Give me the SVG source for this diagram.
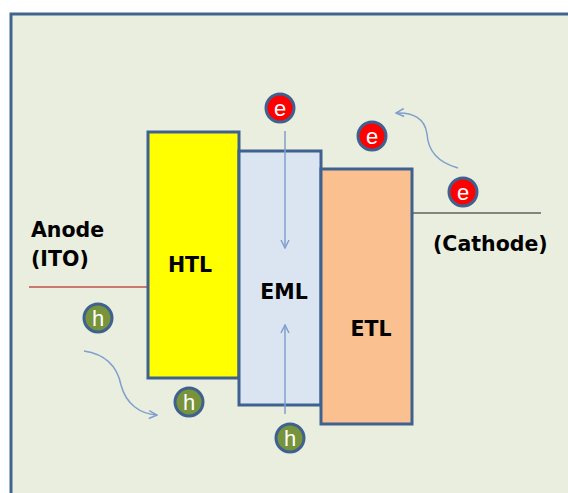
<svg xmlns="http://www.w3.org/2000/svg" width="568" height="493" viewBox="0 0 568 493">
<style>
.layer{stroke:#3f6190;stroke-width:3}
.lbl{font-family:"DejaVu Sans","Liberation Sans",sans-serif;font-weight:bold;font-size:20.5px;fill:#000}
.flow{fill:none;stroke:#7f9fcf;stroke-width:1.5}
.ep{fill:#ff0000;stroke:#3f6190;stroke-width:3}
.hp{fill:#77933c;stroke:#3f6190;stroke-width:3}
.pt{font-family:"Liberation Sans",Arial,sans-serif;font-size:22px;fill:#fff;text-anchor:middle}
</style>
<defs>
<marker id="arr" viewBox="0 0 10 10" refX="9" refY="5" markerWidth="10" markerHeight="10" markerUnits="userSpaceOnUse" orient="auto">
<path d="M1,1 L9,5 L1,9" fill="none" stroke="#7f9fcf" stroke-width="1.5"/>
</marker>
</defs>
<rect x="0" y="0" width="568" height="493" fill="#ffffff"/>
<rect id="frame" x="11" y="14" width="570" height="490" fill="#eaeedf" stroke="#41648f" stroke-width="3"/>
<g id="anode">
<line x1="29" y1="287" x2="148" y2="287" stroke="#c0504d" stroke-width="1.5"/>
<text class="lbl" x="31" y="237">Anode</text>
<text class="lbl" x="31" y="266">(ITO)</text>
</g>
<g id="cathode">
<line x1="413" y1="213" x2="541" y2="213" stroke="#5f6360" stroke-width="1.5"/>
<text class="lbl" x="433" y="251">(Cathode)</text>
</g>
<g id="HTL">
<rect class="layer" x="148" y="132" width="91" height="246" fill="#ffff00"/>
<text class="lbl" x="190" y="272" text-anchor="middle">HTL</text>
</g>
<g id="EML">
<rect class="layer" x="239" y="151" width="82" height="254" fill="#dbe5f1"/>
<text class="lbl" x="284" y="299" text-anchor="middle">EML</text>
</g>
<g id="ETL">
<rect class="layer" x="321" y="169" width="91" height="255" fill="#fac090"/>
<text class="lbl" x="371" y="336" text-anchor="middle">ETL</text>
</g>
<g id="connectors">
<line class="flow" x1="285" y1="131" x2="285" y2="248" marker-end="url(#arr)"/>
<line class="flow" x1="285" y1="414" x2="285" y2="325" marker-end="url(#arr)"/>
<path class="flow" d="M458,168 C436,162 428,150 427,134 C425,118 412,112 396,113" marker-end="url(#arr)"/>
<path class="flow" d="M84,351 C104,354 117,365 121,385 C126,404 140,414 157,415" marker-end="url(#arr)"/>
</g>
<g id="e1"><circle class="ep" cx="280" cy="108" r="14"/><text class="pt" x="280" y="116">e</text></g>
<g id="e2"><circle class="ep" cx="372" cy="136" r="14"/><text class="pt" x="372" y="144">e</text></g>
<g id="e3"><circle class="ep" cx="463" cy="192" r="14"/><text class="pt" x="463" y="200">e</text></g>
<g id="h1"><circle class="hp" cx="98" cy="318" r="14"/><text class="pt" x="98" y="326">h</text></g>
<g id="h2"><circle class="hp" cx="189" cy="402" r="14"/><text class="pt" x="189" y="410">h</text></g>
<g id="h3"><circle class="hp" cx="290" cy="438" r="14"/><text class="pt" x="290" y="446">h</text></g>
</svg>
